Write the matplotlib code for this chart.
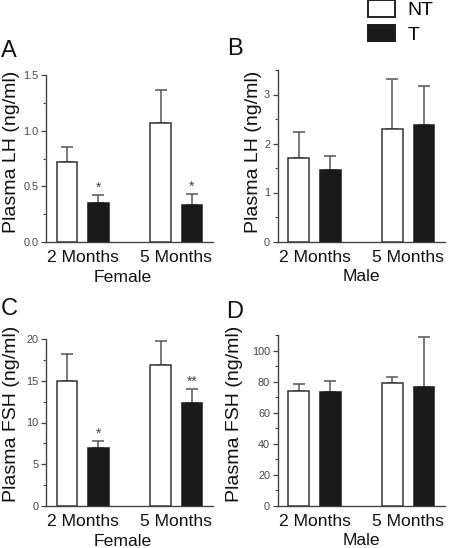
import matplotlib
matplotlib.use("Agg")
import matplotlib.pyplot as plt
from matplotlib.patches import Patch
from matplotlib.ticker import MultipleLocator

plt.rcParams['font.family'] = ['Liberation Sans', 'DejaVu Sans']

groups = ["2 Months", "5 Months"]
series = ["NT", "T"]

# Panel A: Female LH
a_nt = [0.72, 1.07]
a_nt_err = [0.13, 0.295]
a_t = [0.35, 0.33]
a_t_err = [0.07, 0.10]
a_sig = ["*", "*"]

# Panel B: Male LH
b_nt = [1.71, 2.30]
b_nt_err = [0.53, 1.01]
b_t = [1.46, 2.38]
b_t_err = [0.28, 0.80]
b_sig = ["", ""]

# Panel C: Female FSH
c_nt = [14.97, 16.85]
c_nt_err = [3.2, 2.95]
c_t = [6.95, 12.38]
c_t_err = [0.87, 1.6]
c_sig = ["*", "**"]

# Panel D: Male FSH
d_nt = [74.0, 79.4]
d_nt_err = [4.3, 3.8]
d_t = [73.1, 76.3]
d_t_err = [7.3, 32.1]
d_sig = ["", ""]

W, H = 450, 548
fig = plt.figure(figsize=(W / 100, H / 100), dpi=100)

def rect(l, r, t, b):
    return [l / W, 1 - b / H, (r - l) / W, (b - t) / H]

EDGE = "#333333"
BLACK = "#1a1a1a"
ERR = "#555555"
TICKC = "#444444"

def panel(pos, nt, nt_err, t, t_err, sig, ylim, major, minor, ylabel, xlabel,
          ylab_x, ylab_y, xlab_x, xlab_y, fmt):
    ax = fig.add_axes(rect(*pos))
    x = [0, 1]
    off = 0.168
    w = 0.22
    xn = [xi - off for xi in x]
    xt = [xi + off for xi in x]
    ax.bar(xn, nt, width=w, color="white", edgecolor=EDGE, linewidth=1.1, zorder=3)
    ax.bar(xt, t, width=w, color=BLACK, edgecolor=BLACK, linewidth=1.1, zorder=3)
    ax.errorbar(xn, nt, yerr=[[0] * len(nt), nt_err], fmt="none", ecolor=ERR,
                elinewidth=1.1, capsize=4.2, capthick=1.1, zorder=2)
    ax.errorbar(xt, t, yerr=[[0] * len(t), t_err], fmt="none", ecolor=ERR,
                elinewidth=1.1, capsize=4.2, capthick=1.1, zorder=2)
    for xi, v, e, s in zip(xt, t, t_err, sig):
        if s:
            ax.annotate(s, (xi, v + e), xytext=(0, 0), textcoords="offset points",
                        ha="center", va="bottom", fontsize=10, color="#444444")
    ax.set_xlim(-0.393, 1.393)
    ax.set_ylim(*ylim)
    ax.yaxis.set_major_locator(MultipleLocator(major))
    ax.yaxis.set_minor_locator(MultipleLocator(minor))
    ax.yaxis.set_major_formatter(fmt)
    ax.set_xticks(x)
    ax.set_xticklabels(groups, fontsize=12.6, color="#111111")
    ax.tick_params(axis="x", length=0, pad=6)
    ax.tick_params(axis="y", which="major", length=3.7, width=0.9, color=TICKC,
                   labelsize=7.8, labelcolor="#444444", pad=1.8, direction="out")
    ax.tick_params(axis="y", which="minor", length=2.2, width=0.8, color=TICKC,
                   direction="out")
    for sp in ["top", "right"]:
        ax.spines[sp].set_visible(False)
    for sp in ["left", "bottom"]:
        ax.spines[sp].set_color(TICKC)
        ax.spines[sp].set_linewidth(1.0)
    ax.set_ylabel(ylabel, fontsize=14, color="#111111")
    ax.yaxis.set_label_coords(ylab_x, ylab_y)
    ax.set_xlabel(xlabel, fontsize=12.6, color="#111111")
    ax.xaxis.set_label_coords(xlab_x, xlab_y)
    return ax

panel((46, 213, 75, 242), a_nt, a_nt_err, a_t, a_t_err, a_sig, (0, 1.5), 0.5, 0.25,
      "Plasma LH (ng/ml)", "Female", -0.155, 0.542, 0.46, -0.165, "{x:.1f}")
panel((277.7, 445, 70, 241.5), b_nt, b_nt_err, b_t, b_t_err, b_sig, (0, 3.5), 1, 0.5,
      "Plasma LH (ng/ml)", "Male", -0.094, 0.525, 0.5, -0.16, "{x:.0f}")
panel((46, 213, 339, 506), c_nt, c_nt_err, c_t, c_t_err, c_sig, (0, 20), 5, 2.5,
      "Plasma FSH (ng/ml)", "Female", -0.155, 0.551, 0.46, -0.165, "{x:.0f}")
panel((277.7, 445, 335, 506), d_nt, d_nt_err, d_t, d_t_err, d_sig, (0, 110), 20, 10,
      "Plasma FSH (ng/ml)", "Male", -0.21, 0.538, 0.5, -0.16, "{x:.0f}")

for lab, px, py in [("A", 1, 57), ("B", 227, 55), ("C", 1, 315), ("D", 226, 318)]:
    fig.text(px / W, 1 - py / H, lab, fontsize=17, va="baseline", ha="left", color="#111111")

handles = [Patch(facecolor="white", edgecolor="#222222", linewidth=1.4, label=series[0]),
           Patch(facecolor=BLACK, edgecolor=BLACK, linewidth=1.4, label=series[1])]
fig.legend(handles=handles, loc="upper left", bbox_to_anchor=(368 / W, 1 - 0 / H),
           frameon=False, fontsize=14, handlelength=1.39, handleheight=0.93,
           handletextpad=0.65, labelspacing=0.3, borderpad=0, borderaxespad=0)

fig.savefig("out.png", dpi=100)
